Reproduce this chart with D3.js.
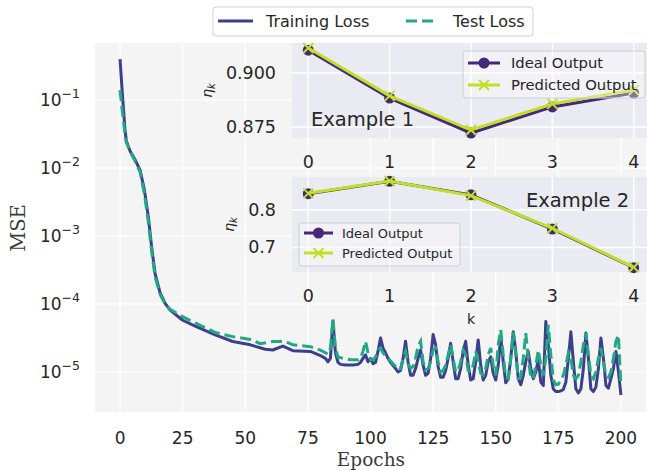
<!DOCTYPE html>
<html><head><meta charset="utf-8">
<script src="https://cdn.jsdelivr.net/npm/d3@7"></script>
<style>body{margin:0;background:#fff}svg{display:block}</style></head>
<body><svg id="c" width="647" height="470"></svg>
<script>
// ---------- data ----------
const trainEpochs = [0,1,2,2.5,4,6,8,9.7,11.3,12.6,14,16,18,20,25,30,38,45,52,58,61,65,69,76,
  80,82,83,84,85,86,87,88,90,93,95,96,97,98,99,100,101,102,103,104,105,106,107,108,110,111,112,113,114,115,116,117,118,119,120,
  121,122,123,124,125,126,127,128,129,130,131,132,133,134,135,136,137,138,139,140,141,142,143,144,145,146,147,148,149,150,
  151,152,153,154,155,156,157,158,159,160,161,162,163,164,165,166,167,168,169,170,171,172,173,174,175,176,177,178,179,180,
  181,182,183,184,185,186,187,188,189,190,191,192,193,194,195,196,197,198,199,200];
const trainLoss = [0.40,0.112,0.0355,0.0251,0.0178,0.0132,0.0093,0.0048,0.0019,6.9e-4,2.8e-4,1.45e-4,1.02e-4,8.1e-5,5.75e-5,4.7e-5,3.5e-5,2.8e-5,2.5e-5,2.15e-5,2.1e-5,2.4e-5,2.05e-5,2.0e-5,
  1.74e-5,1.58e-5,1.41e-5,1.58e-5,5.62e-5,1.91e-5,1.38e-5,1.29e-5,1.26e-5,1.26e-5,1.29e-5,1.38e-5,1.58e-5,1.78e-5,1.41e-5,1.58e-5,1.32e-5,1.38e-5,2.0e-5,3.16e-5,2.24e-5,1.91e-5,1.58e-5,1.38e-5,1.12e-5,1.0e-5,1.05e-5,1.58e-5,2.82e-5,1.41e-5,8.91e-6,8.91e-6,1.12e-5,1.58e-5,2.09e-5,
  1.26e-5,8.91e-6,9.55e-6,1.58e-5,3.55e-5,2.51e-5,1.20e-5,8.32e-6,8.32e-6,1.05e-5,1.58e-5,2.63e-5,1.41e-5,7.94e-6,7.94e-6,1.12e-5,2.0e-5,2.82e-5,1.26e-5,7.59e-6,7.94e-6,1.41e-5,2.95e-5,1.26e-5,7.59e-6,8.91e-6,1.41e-5,1.66e-5,9.55e-6,7.59e-6,
  1.26e-5,3.31e-5,1.41e-5,6.92e-6,7.94e-6,1.58e-5,3.89e-5,2.0e-5,7.94e-6,6.46e-6,8.91e-6,1.41e-5,2.0e-5,1.12e-5,7.94e-6,1.0e-5,1.51e-5,7.08e-6,6.31e-6,5.50e-5,2.51e-5,8.91e-6,5.62e-6,5.13e-6,5.13e-6,5.25e-6,5.50e-6,7.08e-6,1.58e-5,3.89e-5,
  1.41e-5,5.62e-6,4.90e-6,5.62e-6,1.12e-5,3.72e-5,1.58e-5,5.62e-6,5.13e-6,6.03e-6,1.12e-5,3.16e-5,1.58e-5,6.31e-6,5.75e-6,7.94e-6,1.12e-5,2.0e-5,1.0e-5,4.57e-6];
const testEpochs = [0,1,2,2.5,4,6,8,9.7,11.3,12.6,14,16,18,20,25,30,38,45,52,56,61,66,69,76,
  80,82,83,84,85,86,87,89,92,95,96,97,98,99,100,101,102,103,104,105,106,108,110,111,112,113,114,115,116,117,118,119,120,
  121,122,123,124,125,126,127,128,129,130,131,132,133,134,135,136,137,138,139,140,141,142,143,144,145,146,147,148,149,150,
  151,152,153,154,155,156,157,158,159,160,161,162,163,164,165,166,167,168,169,170,171,172,173,174,175,176,177,178,179,180,
  181,182,183,184,185,186,187,188,189,190,191,192,193,194,195,196,197,198,199,200];
const testLoss = [0.14,0.063,0.0316,0.024,0.0174,0.0126,0.0087,0.0042,0.0016,6.0e-4,2.5e-4,1.38e-4,1.0e-4,8.3e-5,6.5e-5,5.25e-5,3.8e-5,3.3e-5,3.0e-5,2.6e-5,2.8e-5,2.8e-5,2.5e-5,2.35e-5,
  2.09e-5,1.91e-5,1.82e-5,2.24e-5,6.03e-5,2.24e-5,1.66e-5,1.58e-5,1.51e-5,1.51e-5,1.58e-5,2.0e-5,2.82e-5,1.91e-5,1.51e-5,1.51e-5,1.66e-5,2.09e-5,2.24e-5,1.91e-5,1.74e-5,1.45e-5,1.20e-5,1.07e-5,1.12e-5,1.58e-5,2.0e-5,1.32e-5,1.12e-5,1.20e-5,1.58e-5,2.40e-5,2.82e-5,
  1.41e-5,1.07e-5,1.12e-5,1.41e-5,2.09e-5,2.24e-5,1.41e-5,1.0e-5,1.05e-5,1.26e-5,1.78e-5,2.51e-5,1.58e-5,1.0e-5,1.05e-5,1.41e-5,2.09e-5,1.78e-5,1.05e-5,1.0e-5,1.26e-5,2.0e-5,1.41e-5,9.55e-6,8.91e-6,1.12e-5,1.78e-5,2.24e-5,1.26e-5,8.91e-6,
  2.51e-5,4.17e-5,1.78e-5,8.32e-6,7.94e-6,1.58e-5,3.89e-5,1.78e-5,7.94e-6,8.32e-6,1.58e-5,3.72e-5,1.58e-5,8.32e-6,7.94e-6,1.26e-5,2.09e-5,1.26e-5,8.91e-6,1.58e-5,4.90e-5,1.78e-5,7.59e-6,6.46e-6,6.61e-6,7.59e-6,8.91e-6,1.26e-5,1.91e-5,1.58e-5,
  8.91e-6,7.94e-6,8.91e-6,1.41e-5,2.51e-5,3.72e-5,1.78e-5,8.91e-6,7.94e-6,1.0e-5,1.58e-5,2.24e-5,1.41e-5,8.91e-6,8.32e-6,1.0e-5,1.58e-5,2.82e-5,3.47e-5,6.17e-6];
const xTickValues = [0,25,50,75,100,125,150,175,200];
const yTickExponents = [-1,-2,-3,-4,-5];
const kValues = [0,1,2,3,4];
const ex1Ideal = [0.9106,0.8884,0.8722,0.8843,0.8907];
const ex1Pred  = [0.9116,0.8894,0.8736,0.8857,0.8921];
const ex2Ideal = [0.843,0.876,0.840,0.749,0.646];
const ex2Pred  = [0.844,0.877,0.838,0.751,0.647];
const ex1YTicks = [0.875,0.900];
const ex2YTicks = [0.7,0.8];

// ---------- setup ----------
const svg = d3.select('#c');
const FONT = "'DejaVu Sans', sans-serif";
const SERIF = "'DejaVu Serif', serif";
const TXT = '#262626';
const cTrain = '#3e3f8c', cTest = '#22a884', cIdeal = '#46287a', cPred = '#c0df25';

// main axes
const M = {l:95, r:646, t:43, b:412};
const x = d3.scaleLinear().domain([-10,210]).range([M.l,M.r]);
const y = d3.scaleLog().domain([Math.pow(10,-5.59), Math.pow(10,-0.162)]).range([M.b,M.t]);

const main = svg.append('g');
main.append('rect').attr('x',M.l).attr('y',M.t).attr('width',M.r-M.l).attr('height',M.b-M.t).attr('fill','#f4f4f4');
main.selectAll('.gx').data(xTickValues).enter().append('line')
  .attr('x1',d=>x(d)).attr('x2',d=>x(d)).attr('y1',M.t).attr('y2',M.b)
  .attr('stroke','#fff').attr('stroke-width',1.4);
main.selectAll('.gy').data(yTickExponents).enter().append('line')
  .attr('x1',M.l).attr('x2',M.r).attr('y1',d=>y(Math.pow(10,d))).attr('y2',d=>y(Math.pow(10,d)))
  .attr('stroke','#fff').attr('stroke-width',1.4);
main.selectAll('.xt').data(xTickValues).enter().append('text')
  .attr('x',d=>x(d)).attr('y',444).attr('text-anchor','middle')
  .attr('font-family',FONT).attr('font-size',17).attr('fill',TXT).text(d=>d);
yTickExponents.forEach(e=>{
  const t = main.append('text').attr('x',80).attr('y',y(Math.pow(10,e))+6)
    .attr('text-anchor','end').attr('font-family',FONT).attr('fill',TXT);
  t.append('tspan').attr('font-size',17).text('10');
  t.append('tspan').attr('font-size',12.5).attr('dy',-8).text('\u2212'+Math.abs(e));
});
main.append('text').attr('x',371).attr('y',466).attr('text-anchor','middle')
  .attr('font-family',SERIF).attr('font-size',18.5).attr('fill','#3a3a3a').text('Epochs');
main.append('text').attr('transform','translate(25,228) rotate(-90)').attr('text-anchor','middle')
  .attr('font-family',SERIF).attr('font-size',19.5).attr('fill','#3a3a3a').text('MSE');

// curves
svg.append('clipPath').attr('id','mclip').append('rect')
  .attr('x',M.l).attr('y',M.t).attr('width',M.r-M.l).attr('height',M.b-M.t);
const line = d3.line().x(d=>x(d[0])).y(d=>y(d[1]));
const trainData = trainEpochs.map((e,i)=>[e,trainLoss[i]]);
const testData = testEpochs.map((e,i)=>[e,testLoss[i]]);
const cg = main.append('g').attr('clip-path','url(#mclip)');
cg.append('path').datum(trainData).attr('d',line).attr('fill','none')
  .attr('stroke',cTrain).attr('stroke-width',3).attr('stroke-linejoin','round');
cg.append('path').datum(testData).attr('d',line).attr('fill','none')
  .attr('stroke',cTest).attr('stroke-width',3).attr('stroke-dasharray','11,5');

// main legend
const lg = svg.append('g');
lg.append('rect').attr('x',213).attr('y',7).attr('width',320).attr('height',29).attr('rx',3)
  .attr('fill','#fff').attr('stroke','#d0d0d0');
lg.append('line').attr('x1',218).attr('x2',253).attr('y1',21).attr('y2',21).attr('stroke',cTrain).attr('stroke-width',3);
lg.append('text').attr('x',266).attr('y',27).attr('font-family',FONT).attr('font-size',16).attr('fill',TXT).text('Training Loss');
lg.append('line').attr('x1',406).attr('x2',437).attr('y1',21).attr('y2',21).attr('stroke',cTest).attr('stroke-width',3).attr('stroke-dasharray','11,5');
lg.append('text').attr('x',453).attr('y',27).attr('font-family',FONT).attr('font-size',16).attr('fill',TXT).text('Test Loss');

// ---------- insets ----------
function inset(cfg){
  const g = svg.append('g');
  const xs = d3.scaleLinear().domain([-0.2,4.2]).range([292,650]);
  const ys = d3.scaleLinear().domain(cfg.ydom).range([cfg.b,cfg.t]);
  g.append('rect').attr('x',292).attr('y',cfg.t).attr('width',358).attr('height',cfg.b-cfg.t).attr('fill','#eaeaf2');
  g.selectAll('.gx').data(kValues).enter().append('line')
    .attr('x1',d=>xs(d)).attr('x2',d=>xs(d)).attr('y1',cfg.t).attr('y2',cfg.b).attr('stroke','#fff').attr('stroke-width',1.5);
  g.selectAll('.gy').data(cfg.yticks).enter().append('line')
    .attr('x1',292).attr('x2',650).attr('y1',d=>ys(d)).attr('y2',d=>ys(d)).attr('stroke','#fff').attr('stroke-width',1.5);
  g.selectAll('.xt').data(kValues).enter().append('text')
    .attr('x',d=>xs(d)).attr('y',cfg.b+30).attr('text-anchor','middle')
    .attr('font-family',FONT).attr('font-size',17.5).attr('fill',TXT).text(d=>d);
  g.selectAll('.yt').data(cfg.yticks).enter().append('text')
    .attr('x',276).attr('y',d=>ys(d)+6).attr('text-anchor','end')
    .attr('font-family',FONT).attr('font-size',17.5).attr('fill',TXT).text(d=>cfg.fmt(d));
  const yl = g.append('text').attr('transform',`translate(${cfg.ylx},${(cfg.t+cfg.b)/2}) rotate(-90)`)
    .attr('text-anchor','middle').attr('font-family',FONT).attr('fill',TXT);
  yl.append('tspan').attr('font-size',14).attr('font-style','italic').text('\u03b7');
  yl.append('tspan').attr('font-size',10).attr('font-style','italic').attr('dy',3).text('k');
  const ln = d3.line().x((d,i)=>xs(kValues[i])).y(d=>ys(d));
  g.append('path').datum(cfg.ideal).attr('d',ln).attr('fill','none').attr('stroke',cIdeal).attr('stroke-width',3);
  g.selectAll('.ci').data(cfg.ideal).enter().append('circle')
    .attr('cx',(d,i)=>xs(kValues[i])).attr('cy',d=>ys(d)).attr('r',5.5).attr('fill',cIdeal);
  g.append('path').datum(cfg.pred).attr('d',ln).attr('fill','none').attr('stroke',cPred).attr('stroke-width',3);
  cfg.pred.forEach((d,i)=>{
    const cx=xs(kValues[i]), cy=ys(d), s=5;
    g.append('path').attr('d',`M${cx-s},${cy-s}L${cx+s},${cy+s}M${cx-s},${cy+s}L${cx+s},${cy-s}`)
      .attr('stroke',cPred).attr('stroke-width',2);
  });
  const L = cfg.leg;
  g.append('rect').attr('x',L.x).attr('y',L.y).attr('width',L.w).attr('height',L.h).attr('rx',3)
    .attr('fill','rgba(255,255,255,0.35)').attr('stroke','#cfcfcf');
  [[cIdeal,'Ideal Output',0],[cPred,'Predicted Output',1]].forEach(([c,t,i])=>{
    const yy = L.y + L.r0 + i*L.dy;
    g.append('line').attr('x1',L.x+5).attr('x2',L.x+5+L.sw).attr('y1',yy).attr('y2',yy).attr('stroke',c).attr('stroke-width',3);
    const mx = L.x+5+L.sw/2;
    if(i===0) g.append('circle').attr('cx',mx).attr('cy',yy).attr('r',5.5).attr('fill',c);
    else g.append('path').attr('d',`M${mx-5},${yy-5}L${mx+5},${yy+5}M${mx-5},${yy+5}L${mx+5},${yy-5}`).attr('stroke',c).attr('stroke-width',2);
    g.append('text').attr('x',L.x+L.tx).attr('y',yy+5).attr('font-family',FONT).attr('font-size',L.fs).attr('fill',TXT).text(t);
  });
  g.append('text').attr('x',cfg.lab.x).attr('y',cfg.lab.y).attr('font-family',FONT).attr('font-size',19.5).attr('fill',TXT).text(cfg.lab.t);
  return {g,xs,ys};
}
inset({t:43,b:138,ydom:[0.8699,0.9139],yticks:ex1YTicks,fmt:d3.format('.3f'),ylx:212,
  ideal:ex1Ideal,pred:ex1Pred,
  leg:{x:463,y:51,w:182,h:47,r0:12,dy:22,sw:32,tx:48,fs:14.8},
  lab:{x:311,y:126,t:'Example 1'}});
const in2 = inset({t:177,b:272,ydom:[0.6345,0.8875],yticks:ex2YTicks,fmt:d3.format('.1f'),ylx:234,
  ideal:ex2Ideal,pred:ex2Pred,
  leg:{x:299,y:223,w:161,h:43,r0:10,dy:20,sw:29,tx:43,fs:13},
  lab:{x:526,y:207,t:'Example 2'}});
svg.append('text').attr('x',in2.xs(2)).attr('y',324).attr('text-anchor','middle')
  .attr('font-family',FONT).attr('font-size',14).attr('fill',TXT).text('k');
</script></body></html>
